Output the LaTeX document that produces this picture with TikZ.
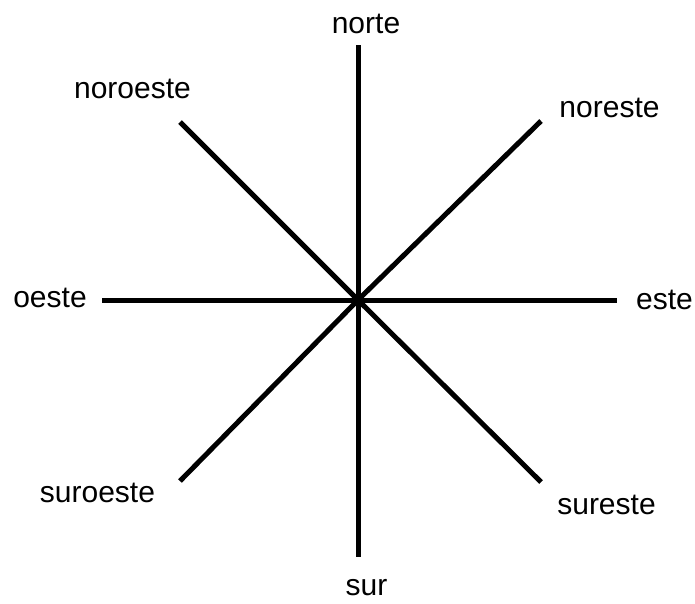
\documentclass[tikz,border=0pt]{standalone}
\usepackage{fontspec}
\setmainfont{Liberation Sans}
\begin{document}
\begin{tikzpicture}[x=1pt,y=-1pt,
  lbl/.style={anchor=base,inner sep=0pt,font=\fontsize{30}{36}\selectfont},
  ray/.style={line width=5pt,line cap=butt,black}]
\useasboundingbox (0,0) rectangle (695,603);
\coordinate (c) at (358,300);
\coordinate (eN) at (358,45);
\coordinate (eS) at (358,557);
\coordinate (eW) at (102,300);
\coordinate (eE) at (617,300);
\coordinate (eNW) at (180,122);
\coordinate (eNE) at (541,121);
\coordinate (eSW) at (180,481);
\coordinate (eSE) at (541,482);
\draw[ray] (c) -- (eN);
\draw[ray] (c) -- (eS);
\draw[ray] (c) -- (eW);
\draw[ray] (c) -- (eE);
\draw[ray] (c) -- (eNW);
\draw[ray] (c) -- (eNE);
\draw[ray] (c) -- (eSW);
\draw[ray] (c) -- (eSE);
\node[lbl] (norte) at (366,33) {norte};
\node[lbl] (noroeste) at (132.5,98) {noroeste};
\node[lbl] (noreste) at (609.5,117) {noreste};
\node[lbl] (oeste) at (50,307) {oeste};
\node[lbl] (este) at (664.5,309) {este};
\node[lbl] (suroeste) at (97.5,502) {suroeste};
\node[lbl] (sureste) at (606.5,514) {sureste};
\node[lbl] (sur) at (366.5,595) {sur};
\end{tikzpicture}
\end{document}
